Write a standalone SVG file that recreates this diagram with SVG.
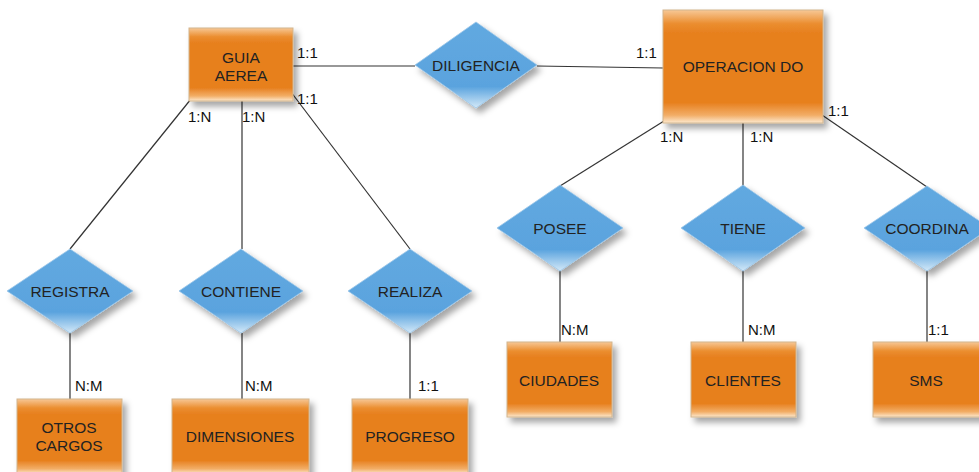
<svg xmlns="http://www.w3.org/2000/svg" width="979" height="472" viewBox="0 0 979 472">
<defs>
<linearGradient id="gRect" x1="0" y1="0" x2="0" y2="1">
<stop offset="0" stop-color="#f7c896"/>
<stop offset="0.12" stop-color="#eb8e30"/>
<stop offset="0.2" stop-color="#e7801f"/>
<stop offset="0.82" stop-color="#e7801f"/>
<stop offset="0.93" stop-color="#f2ad66"/>
<stop offset="1" stop-color="#fde9cf"/>
</linearGradient>
<linearGradient id="gDia" x1="0" y1="0" x2="0" y2="1">
<stop offset="0" stop-color="#62a9e0"/>
<stop offset="0.75" stop-color="#5aa3de"/>
<stop offset="1" stop-color="#d4e9f8"/>
</linearGradient>
<filter id="sh" x="-20%" y="-20%" width="150%" height="150%">
<feDropShadow dx="4" dy="5" stdDeviation="3" flood-color="#000" flood-opacity="0.35"/>
</filter>
</defs>
<style>
.ent{fill:url(#gRect);stroke:#d2b48c;stroke-width:1;filter:url(#sh)}
.rel{fill:url(#gDia);stroke:#9cc6e8;stroke-width:0.8;filter:url(#sh)}
.t{font-family:"Liberation Sans",Arial,sans-serif;font-size:15.5px;fill:#222;text-anchor:middle}
.c{font-family:"Liberation Sans",Arial,sans-serif;font-size:15px;fill:#111}
.ln{stroke:#333;stroke-width:1.2;fill:none}
</style>
<rect width="979" height="472" fill="#fff"/>
<g id="connectors">
<line class="ln" x1="293" y1="66" x2="415" y2="66"/>
<line class="ln" x1="537" y1="66" x2="663" y2="68"/>
<line class="ln" x1="191" y1="99" x2="70" y2="249"/>
<line class="ln" x1="242" y1="101" x2="242" y2="249"/>
<line class="ln" x1="291" y1="92" x2="410" y2="249"/>
<line class="ln" x1="70" y1="333" x2="70" y2="399"/>
<line class="ln" x1="242" y1="333" x2="242" y2="399"/>
<line class="ln" x1="410" y1="333" x2="410" y2="399"/>
<line class="ln" x1="664" y1="121" x2="560" y2="186"/>
<line class="ln" x1="743" y1="123" x2="743" y2="186"/>
<line class="ln" x1="822" y1="115" x2="927" y2="187"/>
<line class="ln" x1="560" y1="270" x2="560" y2="342"/>
<line class="ln" x1="743" y1="270" x2="743" y2="342"/>
<line class="ln" x1="927" y1="270" x2="927" y2="342"/>
<text class="c" x="297" y="58">1:1</text>
<text class="c" x="297" y="104">1:1</text>
<text class="c" x="188" y="122">1:N</text>
<text class="c" x="242" y="122">1:N</text>
<text class="c" x="636" y="58">1:1</text>
<text class="c" x="660" y="142">1:N</text>
<text class="c" x="750" y="142">1:N</text>
<text class="c" x="828" y="116">1:1</text>
<text class="c" x="75" y="391">N:M</text>
<text class="c" x="245" y="391">N:M</text>
<text class="c" x="418" y="391">1:1</text>
<text class="c" x="561" y="335">N:M</text>
<text class="c" x="748" y="335">N:M</text>
<text class="c" x="928" y="335">1:1</text>
</g>
<g id="guia">
<rect class="ent" x="189" y="28" width="104" height="73"/>
<text class="t" x="241" y="63">GUIA</text>
<text class="t" x="241" y="81">AEREA</text>
</g>
<g id="diligencia">
<polygon class="rel" points="476,22 537,65 476,108 415,65"/>
<text class="t" x="476" y="71">DILIGENCIA</text>
</g>
<g id="operacion">
<rect class="ent" x="663" y="10" width="160" height="113"/>
<text class="t" x="743" y="72">OPERACION DO</text>
</g>
<g id="registra">
<polygon class="rel" points="70,249 133,291 70,333 7,291"/>
<text class="t" x="70" y="297">REGISTRA</text>
</g>
<g id="contiene">
<polygon class="rel" points="241,249 303,291 241,333 179,291"/>
<text class="t" x="241" y="297">CONTIENE</text>
</g>
<g id="realiza">
<polygon class="rel" points="410,249 472,291 410,333 348,291"/>
<text class="t" x="410" y="297">REALIZA</text>
</g>
<g id="posee">
<polygon class="rel" points="560,185 623,228 560,271 497,228"/>
<text class="t" x="560" y="234">POSEE</text>
</g>
<g id="tiene">
<polygon class="rel" points="743,185 805,228 743,271 681,228"/>
<text class="t" x="743" y="234">TIENE</text>
</g>
<g id="coordina">
<polygon class="rel" points="927,186 990,228 927,271 864,228"/>
<text class="t" x="927" y="234">COORDINA</text>
</g>
<g id="otros">
<rect class="ent" x="17" y="399" width="105" height="75"/>
<text class="t" x="69" y="433">OTROS</text>
<text class="t" x="69" y="451">CARGOS</text>
</g>
<g id="dimensiones">
<rect class="ent" x="172" y="399" width="137" height="75"/>
<text class="t" x="240" y="442">DIMENSIONES</text>
</g>
<g id="progreso">
<rect class="ent" x="352" y="399" width="116" height="75"/>
<text class="t" x="410" y="442">PROGRESO</text>
</g>
<g id="ciudades">
<rect class="ent" x="507" y="342" width="105" height="75"/>
<text class="t" x="559" y="386">CIUDADES</text>
</g>
<g id="clientes">
<rect class="ent" x="691" y="342" width="105" height="75"/>
<text class="t" x="743" y="386">CLIENTES</text>
</g>
<g id="sms">
<rect class="ent" x="873" y="342" width="110" height="75"/>
<text class="t" x="926" y="386">SMS</text>
</g>
</svg>
